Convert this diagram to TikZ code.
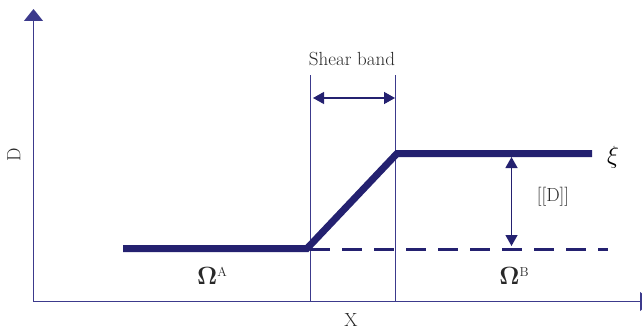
\documentclass[tikz,border=0pt]{standalone}
\usetikzlibrary{arrows.meta}
\definecolor{navy}{RGB}{36,33,112}
\definecolor{thinnavy}{RGB}{60,58,140}
\definecolor{txt}{RGB}{40,40,40}
\begin{document}
\begin{tikzpicture}[x=1pt,y=-1pt,
  axis/.style={draw=thinnavy,line width=1.2pt},
  guide/.style={draw=thinnavy,line width=1pt},
  curve/.style={draw=navy,line width=7pt,line join=miter},
  dashline/.style={draw=navy,line width=3.5pt,dash pattern=on 20pt off 12pt},
  dimarrow/.style={draw=navy,line width=1.3pt,{Triangle[length=11pt,width=12pt]}-{Triangle[length=11pt,width=12pt]}},
  lbl/.style={text=txt,font=\fontsize{19}{22}\selectfont,inner sep=0pt}]
\useasboundingbox (0,0) rectangle (642,329);
% axes
\coordinate (O) at (33.5,301.5);
\coordinate (Ytop) at (33.5,9);
\coordinate (Xend) at (652,301.5);
\draw[axis,-{Triangle[length=12pt,width=19pt]}] (O) -- (Ytop);
\draw[axis,-{Triangle[length=12pt,width=19pt]}] (O) -- (Xend);
% guide lines
\coordinate (g1t) at (310,75); \coordinate (g1b) at (310,301.5);
\coordinate (g2t) at (395,75); \coordinate (g2b) at (395,301.5);
\draw[guide] (g1t) -- (g1b);
\draw[guide] (g2t) -- (g2b);
% curve
\coordinate (c0) at (123,248.5);
\coordinate (c1) at (307,248.5);
\coordinate (c2) at (397,153.5);
\coordinate (c3) at (592,153.5);
\draw[dashline] (310,249.5) coordinate (d0) -- (608,249.5) coordinate (d1);
\draw[curve] (c0) -- (c1) -- (c2) -- (c3);
% shear band arrow
\coordinate (s0) at (313,98); \coordinate (s1) at (395,98);
\draw[dimarrow] (s0) -- (s1);
\node[lbl] (shear) at (352,59) {Shear band};
% jump arrow
\coordinate (j0) at (511.5,157); \coordinate (j1) at (511.5,246);
\draw[dimarrow] (j0) -- (j1);
\node[lbl] (jump) at (553,197) {[[D]]};
\node[text=black,inner sep=0pt,font=\fontsize{38}{40}\selectfont] (xi) at (613,157) {$\xi$};
% labels
\node[lbl] (xl) at (351,320) {X};
\node[lbl,rotate=90] (yl) at (14,155) {D};
\node[inner sep=0pt,text=txt] (oa) at (212,276) {\fontsize{30}{32}\selectfont$\mathbf{\Omega}$\raisebox{8pt}{\fontsize{13}{15}\selectfont A}};
\node[inner sep=0pt,text=txt] (ob) at (514,276) {\fontsize{30}{32}\selectfont$\mathbf{\Omega}$\raisebox{8pt}{\fontsize{13}{15}\selectfont B}};
\end{tikzpicture}
\end{document}
